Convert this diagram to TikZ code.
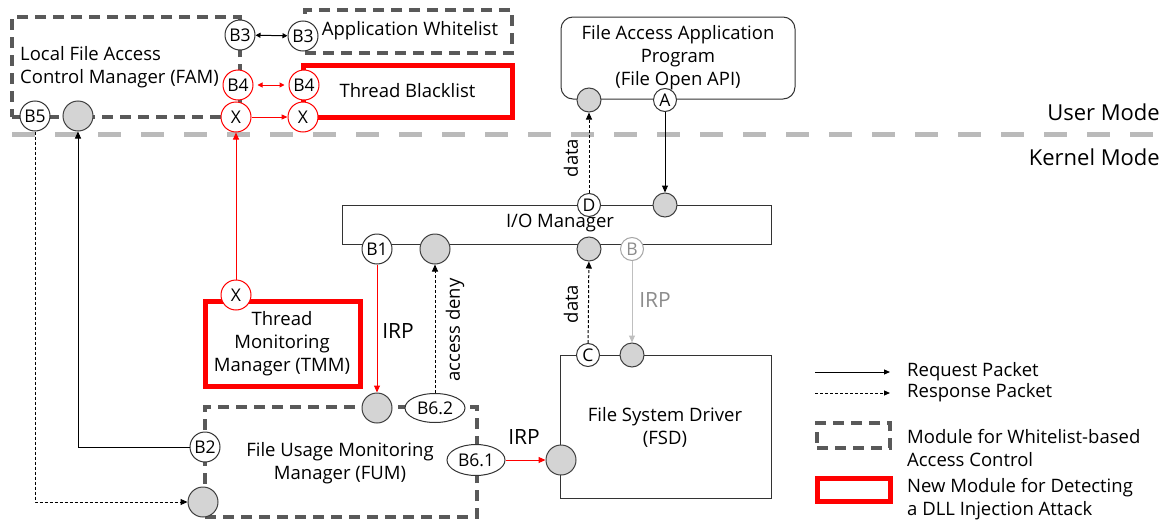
\documentclass[tikz,border=0pt]{standalone}
\usepackage{fontspec}
\setmainfont{Open Sans}
\usetikzlibrary{arrows.meta,shapes.geometric}
\begin{document}
\begin{tikzpicture}[x=1pt,y=-1pt,
  every node/.style={font=\fontsize{18.5}{23}\selectfont, inner sep=0pt},
  txt/.style={align=center},
  circ/.style={circle, draw=black!80, fill=white, line width=1, minimum size=30, inner sep=0pt, font=\fontsize{17.5}{20}\selectfont},
  scirc/.style={circ, minimum size=23},
  rcirc/.style={circ, draw=red},
  gcirc/.style={circle, draw=black!75, fill=black!17, line width=1, minimum size=30},
  sgcirc/.style={gcirc, minimum size=24},
  ell/.style={ellipse, draw=black!80, fill=white, line width=1, inner sep=0pt, font=\fontsize{17.5}{20}\selectfont},
  dashbox/.style={draw=black!65, line width=4, dash pattern=on 11 off 7},
  redbox/.style={draw=red, line width=5},
  plainbox/.style={draw=black!80, line width=1},
  tri/.style={-{Triangle[length=7,width=6]}},
  conn/.style={line width=1, black},
  rconn/.style={line width=1, red},
  dconn/.style={line width=1, black, dash pattern=on 3 off 2},
  gconn/.style={line width=1, black!25},
  irp/.style={font=\fontsize{21}{24}\selectfont},
]
\useasboundingbox (0,0) rectangle (1167,522);

% separator
\draw[black!27, line width=5, dash pattern=on 23 off 20] (12,134) -- (1167,134);
\node[anchor=east, font=\fontsize{22}{26}\selectfont] (um) at (1160,112) {User Mode};
\node[anchor=east, font=\fontsize{22}{26}\selectfont] (km) at (1160,157) {Kernel Mode};

% boxes
\node[dashbox, minimum width=228, minimum height=100] (fam) at (126,67) {};
\node[txt, align=left, anchor=west] (famt) at (20,67) {Local File Access\\Control Manager (FAM)};
\node[dashbox, minimum width=207, minimum height=43] (awl) at (408.5,31.5) {};
\node (awlt) at (410,31) {Application Whitelist};
\node[redbox, minimum width=209, minimum height=52] (tbl) at (407.5,91) {Thread Blacklist};

\node[plainbox, rounded corners=12, minimum width=234, minimum height=82] (fap) at (678,58) {};
\node[txt] (fapt) at (678,58) {File Access Application\\Program\\(File Open API)};

\node[plainbox, minimum width=429, minimum height=39] (io) at (556.5,224.5) {};
\node (iot) at (560,223) {I/O Manager};

\node[plainbox, minimum width=211, minimum height=143] (fsd) at (665.5,426.5) {};
\node[txt] (fsdt) at (665,427) {File System Driver\\(FSD)};

\node[redbox, minimum width=155, minimum height=85] (tmm) at (282.5,343.5) {};
\node[txt] (tmmt) at (282,344) {Thread\\Monitoring\\Manager (TMM)};

\node[dashbox, minimum width=272, minimum height=110] (fum) at (341,462) {};
\node[txt] (fumt) at (340,463) {File Usage Monitoring\\Manager (FUM)};

% circles
\node[circ] (b3a) at (240,35) {B3};
\node[circ] (b3b) at (303,36) {B3};
\node[rcirc] (b4a) at (238,85) {B4};
\node[rcirc] (b4b) at (304,85) {B4};
\node[rcirc] (xa) at (236,117) {X};
\node[rcirc] (xb) at (303,117) {X};
\node[circ] (b5) at (35,116) {B5};
\node[gcirc] (gfam) at (78,116) {};

\node[sgcirc] (gapp) at (589,100) {};
\node[scirc] (ca) at (665,100) {A};

\node[scirc] (cd) at (589,205) {D};
\node[sgcirc] (gio1) at (665,205) {};
\node[circ] (b1) at (377,249) {B1};
\node[gcirc] (gio2) at (435,249) {};
\node[sgcirc] (gio3) at (589,249) {};
\node[scirc, draw=black!35, text=black!45] (cb) at (632,249) {B};

\node[scirc] (cc) at (588,355) {C};
\node[sgcirc] (gfsd1) at (632,355) {};
\node[gcirc] (gfsd2) at (561,460) {};

\node[rcirc] (xt) at (236,295) {X};

\node[gcirc] (gfum1) at (377,408) {};
\node[ell, minimum width=60, minimum height=29] (b62) at (435,408) {B6.2};
\node[circ] (b2) at (205,447) {B2};
\node[gcirc] (gfum2) at (203,502) {};
\node[ell, minimum width=58, minimum height=31] (b61) at (476,460) {B6.1};

% connectors
\draw[conn, {Triangle[length=5,width=5]}-{Triangle[length=5,width=5]}] (b3a) -- (b3b);
\draw[rconn, {Triangle[length=5,width=5]}-{Triangle[length=5,width=5]}, shorten <=4, shorten >=4] (b4a) -- (b4b);
\draw[rconn, -{Triangle[length=6,width=5]}] (xa) -- (xb);
\draw[rconn, tri] (xt) -- (xa);
\draw[conn, tri] (ca) -- (gio1);
\draw[dconn, tri] (cd) -- (gapp);
\node[rotate=90] (l1) at (571,158) {data};
\draw[dconn, tri] (cc) -- (gio3);
\node[rotate=90] (l2) at (571,304) {data};
\draw[gconn, -{Triangle[length=7,width=6,fill=black!25]}] (cb) -- (gfsd1);
\node[irp, text=black!45] (l3) at (655,300) {IRP};
\draw[rconn, tri] (b1) -- (gfum1);
\node[irp] (l4) at (398,331) {IRP};
\draw[dconn, tri] (b62) -- (gio2);
\node[rotate=90] (l5) at (455,330) {access deny};
\draw[rconn, tri] (b61) -- (gfsd2);
\node[irp] (l6) at (524,437) {IRP};
\draw[conn, tri] (b2) -| (gfam);
\draw[dconn, tri] (b5) |- (gfum2);

% legend
\coordinate (la1) at (815,372); \coordinate (la2) at (890,372);
\draw[conn, -{Triangle[length=6,width=5]}] (la1) -- (la2);
\node[anchor=west] (lt1) at (907,372) {Request Packet};
\coordinate (lb1) at (815,393); \coordinate (lb2) at (890,393);
\draw[dconn, -{Triangle[length=6,width=5]}] (lb1) -- (lb2);
\node[anchor=west] (lt2) at (907,393) {Response Packet};
\node[dashbox, minimum width=73, minimum height=25] (lbox1) at (853.5,435.5) {};
\node[anchor=west, align=left] (lt3) at (907,448) {Module for Whitelist-based\\Access Control};
\node[redbox, minimum width=73, minimum height=23] (lbox2) at (853.5,490) {};
\node[anchor=west, align=left] (lt4) at (907,499.5) {New Module for Detecting\\a DLL Injection Attack};
\end{tikzpicture}
\end{document}
